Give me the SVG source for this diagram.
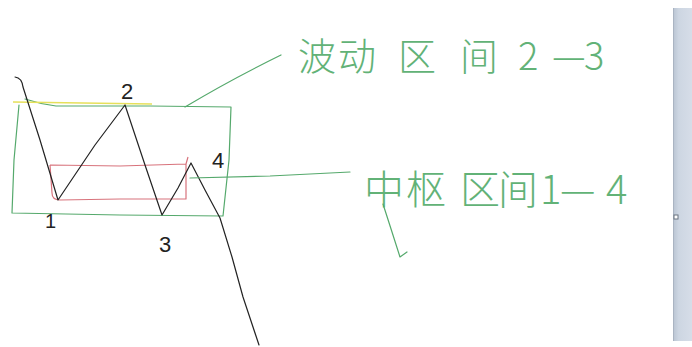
<svg xmlns="http://www.w3.org/2000/svg" width="692" height="347" viewBox="0 0 692 347">
  <defs>
    <linearGradient id="bar" x1="0" y1="0" x2="1" y2="0">
      <stop offset="0" stop-color="#b9c4d2"/>
      <stop offset="0.3" stop-color="#cdd6e2"/>
      <stop offset="1" stop-color="#d6dde8"/>
    </linearGradient>
  </defs>
  <style>
    .ink { fill: none; stroke: #222; stroke-width: 1.2; stroke-linejoin: round; stroke-linecap: round; }
    .green { fill: none; stroke: #55a96c; stroke-width: 1.2; stroke-linejoin: round; stroke-linecap: round; }
    .red { fill: none; stroke: #d8737c; stroke-width: 1.2; stroke-linejoin: round; }
    .yellow { fill: none; stroke: #e6e05a; stroke-width: 1.5; }
    .note { fill: #62b277; font-family: "Noto Sans CJK SC", "Liberation Sans", sans-serif; font-weight: 300; }
    .num { fill: #222; font-family: "Liberation Sans", "DejaVu Sans", sans-serif; font-weight: normal; }
  </style>
  <rect width="692" height="347" fill="#ffffff"/>

  <g id="scrollbar">
    <rect x="673" y="8" width="19" height="333" fill="url(#bar)"/>
    <line x1="673.5" y1="8" x2="673.5" y2="341" stroke="#aab4c2" stroke-width="1"/>
    <rect x="674" y="215" width="4" height="4" fill="#ffffff" stroke="#6b7480" stroke-width="1"/>
  </g>

  <g id="fluctuation-box">
    <path class="green" d="M25,99 Q40,104 56,106 L150,106 L231,107 L229,160 L223,216 L120,215 L12,213 L14,160 L19,105"/>
    <line class="yellow" x1="13" y1="102" x2="152" y2="104"/>
  </g>

  <g id="center-box">
    <path class="red" d="M50,165 L120,166 L186,164 L188,157 M186,164 L186,199 L120,199 L60,200 Q52,200 52,193 L50,165"/>
  </g>

  <g id="price-path">
    <path class="ink" d="M15,77 Q22,78 23,87 L40,140 L58,200 L95,145 L125,105 L145,165 L162,215 L178,188 L191,163 L205,190 L220,218 L232,257 L243,297 L259,345"/>
  </g>

  <g id="point-labels">
    <text class="num" x="121" y="99" font-size="22">2</text>
    <text class="num" x="45" y="228" font-size="20">1</text>
    <text class="num" x="159" y="252" font-size="22">3</text>
    <text class="num" x="212" y="168" font-size="22">4</text>
  </g>

  <g id="connectors">
    <path class="green" d="M185,107 Q230,80 281,55"/>
    <path class="green" d="M190,178 L270,176 L350,172"/>
  </g>

  <g id="label-fluctuation">
    <text class="note" font-size="38" y="70" x="298 338 398 460 518 552 584">波动区间2—3</text>
  </g>

  <g id="label-center">
    <text class="note" font-size="40" y="204" x="364 406 460 498 540 560 606">中枢区间1—4</text>
    <path class="green" d="M383,204 L392,232 L400,257 L407,252"/>
  </g>
</svg>
